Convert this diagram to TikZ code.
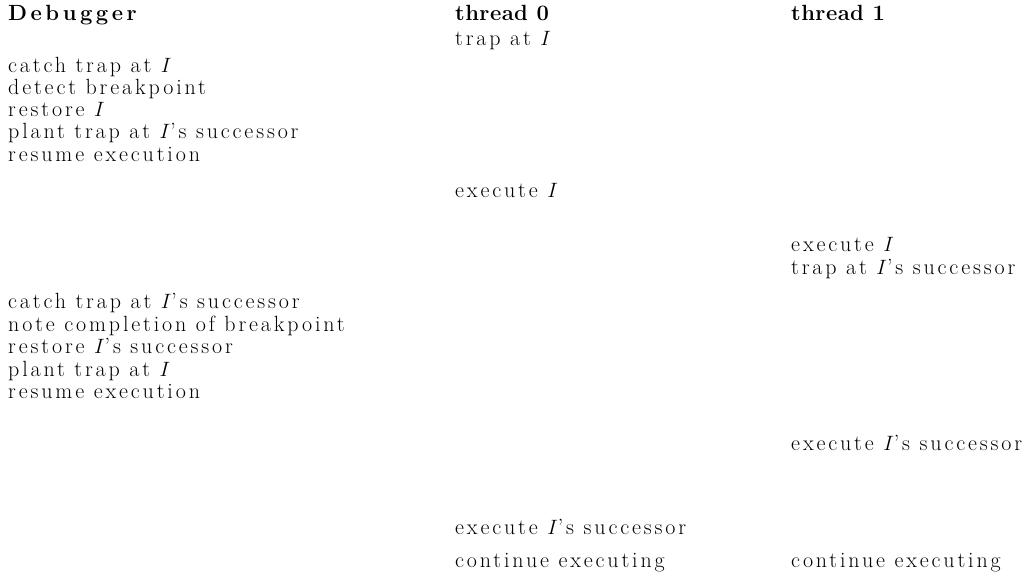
\documentclass[tikz,border=0pt]{standalone}
\usepackage{fontspec}
\setmainfont{Latin Modern Roman}
\begin{document}
\begin{tikzpicture}[x=1pt,y=-1pt,
  txt/.style={anchor=mid west,inner sep=0pt,font=\fontsize{22}{26}\selectfont\addfontfeatures{LetterSpace=13}},
  hdr/.style={anchor=mid west,inner sep=0pt,font=\fontsize{22}{26}\selectfont\bfseries\addfontfeatures{LetterSpace=2}},
  hdrwide/.style={hdr,font=\fontsize{22}{26}\selectfont\bfseries\addfontfeatures{LetterSpace=16}}]
\useasboundingbox (0,0) rectangle (1031,576);
% headers
\node[hdrwide] (hD) at (8,18) {Debugger};
\node[hdr] (h0) at (455,18) {thread 0};
\node[hdr] (h1) at (791,18) {thread 1};
% thread 0
\node[txt] (t0a) at (455,43) {trap at $I$};
% debugger, first round
\node[txt] (d1) at (8,70) {catch trap at $I$};
\node[txt] (d2) at (8,92) {detect breakpoint};
\node[txt] (d3) at (8,114) {restore $I$};
\node[txt] (d4) at (8,136) {plant trap at $I$'s successor};
\node[txt] (d5) at (8,159) {resume execution};
% threads
\node[txt] (t0b) at (455,195) {execute $I$};
\node[txt] (t1a) at (791,249) {execute $I$};
\node[txt] (t1b) at (791,272) {trap at $I$'s successor};
% debugger, second round
\node[txt] (d6) at (8,306) {catch trap at $I$'s successor};
\node[txt] (d7) at (8,329) {note completion of breakpoint};
\node[txt] (d8) at (8,351) {restore $I$'s successor};
\node[txt] (d9) at (8,374) {plant trap at $I$};
\node[txt] (d10) at (8,396) {resume execution};
% threads, end
\node[txt] (t1c) at (791,448) {execute $I$'s successor};
\node[txt] (t0c) at (455,532) {execute $I$'s successor};
\node[txt] (t0d) at (455,565) {continue executing};
\node[txt] (t1d) at (791,565) {continue executing};
\end{tikzpicture}
\end{document}
